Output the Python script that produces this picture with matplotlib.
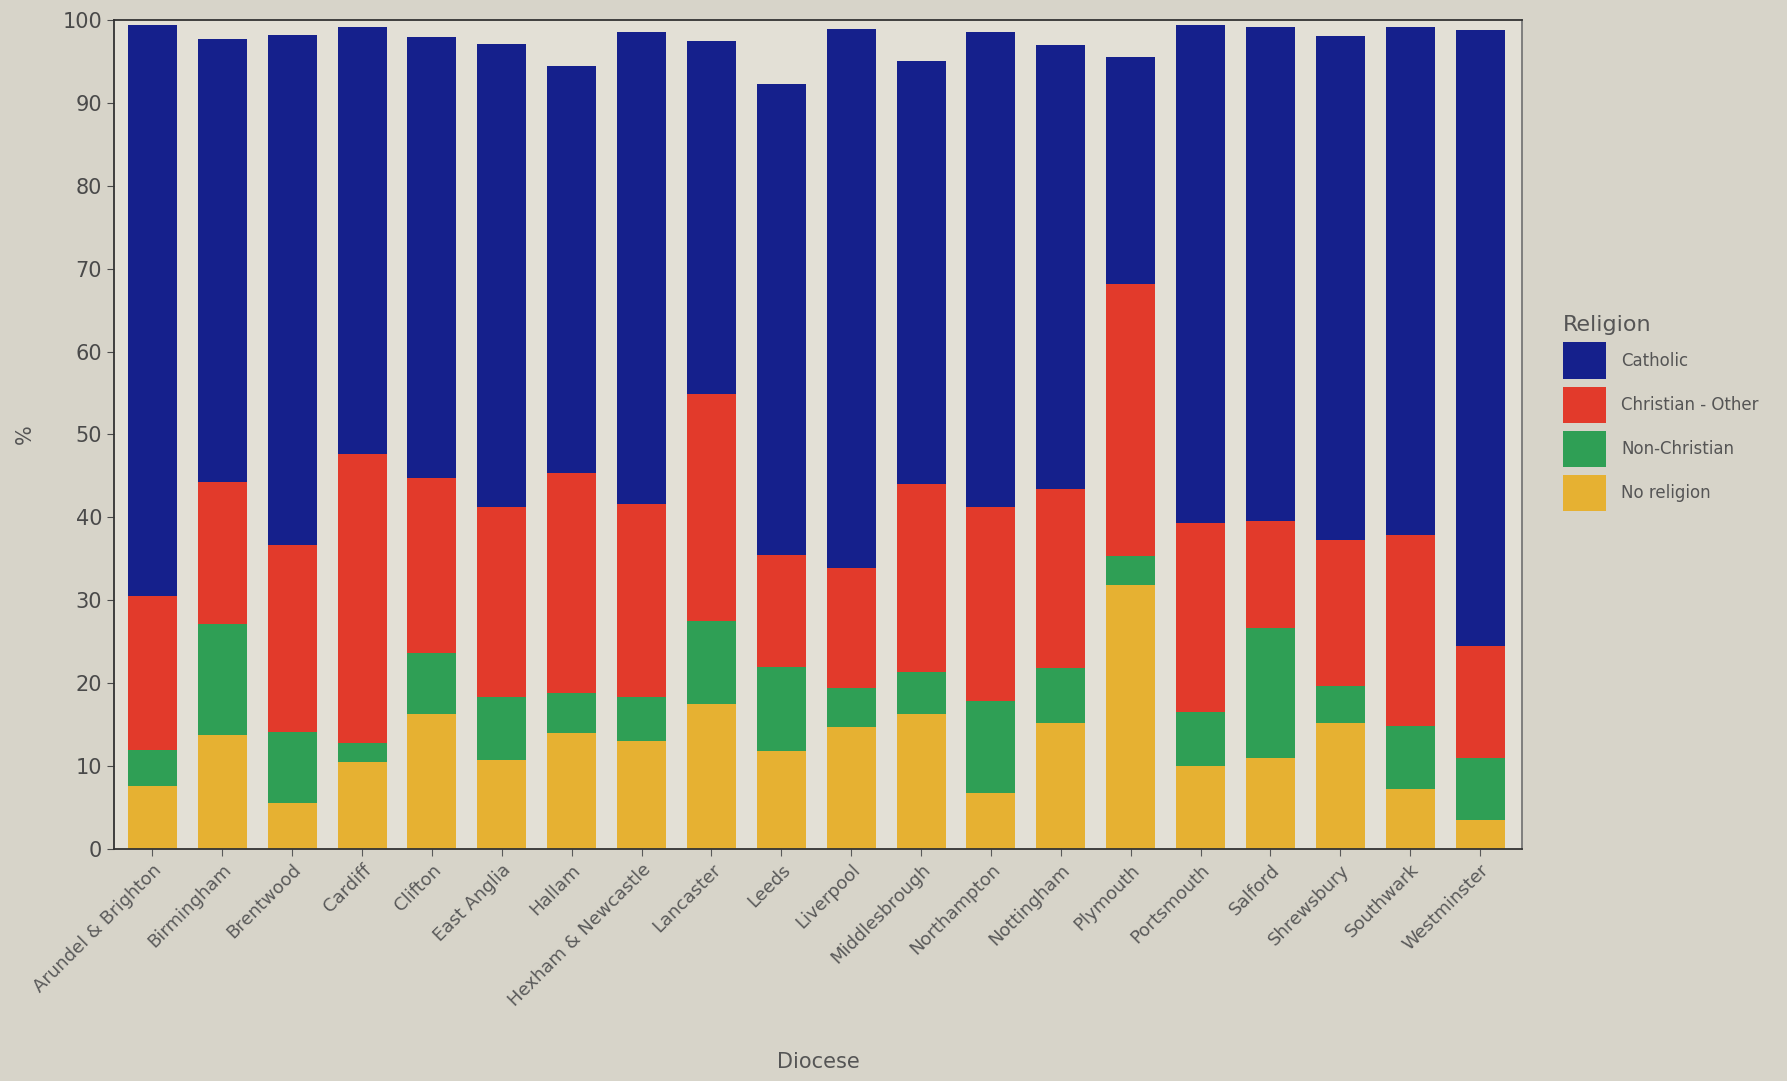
import matplotlib
matplotlib.use("Agg")
import matplotlib.pyplot as plt
import numpy as np
from matplotlib.patches import Patch

dioceses = ["Arundel & Brighton", "Birmingham", "Brentwood", "Cardiff", "Clifton",
            "East Anglia", "Hallam", "Hexham & Newcastle", "Lancaster", "Leeds",
            "Liverpool", "Middlesbrough", "Northampton", "Nottingham", "Plymouth",
            "Portsmouth", "Salford", "Shrewsbury", "Southwark", "Westminster"]

no_religion   = [7.6, 13.8, 5.5, 10.5, 16.3, 10.7, 14.0, 13.0, 17.5, 11.8,
                 14.7, 16.3, 6.8, 15.2, 31.8, 10.0, 11.0, 15.2, 7.2, 3.5]
non_christian = [4.3, 13.3, 8.6, 2.3, 7.4, 7.6, 4.8, 5.3, 10.0, 10.1,
                 4.7, 5.0, 11.1, 6.6, 3.6, 6.5, 15.6, 4.5, 7.6, 7.5]
christian_other = [18.6, 17.2, 22.6, 34.8, 21.1, 23.0, 26.5, 23.3, 27.4, 13.6,
                   14.5, 22.7, 23.3, 21.6, 32.8, 22.8, 13.0, 17.6, 23.1, 13.5]
catholic      = [68.9, 53.4, 61.5, 51.5, 53.2, 55.8, 49.2, 57.0, 42.6, 56.8,
                 65.0, 51.0, 57.4, 53.6, 27.3, 60.1, 59.6, 60.8, 61.3, 74.3]

series_names = ["Catholic", "Christian - Other", "Non-Christian", "No religion"]
colors = {"Catholic": "#15208c", "Christian - Other": "#e23a2b",
          "Non-Christian": "#2f9f55", "No religion": "#e6b132"}

fig = plt.figure(figsize=(17.87, 10.81), dpi=100, facecolor="#d7d4c9")
ax = fig.add_axes([114/1787, 1 - 849/1081, (1522-114)/1787, (849-20)/1081])
ax.set_facecolor("#e3e0d6")

x = np.arange(len(dioceses))
w = 0.7
bottom = np.zeros(len(dioceses))
for name, vals in [("No religion", no_religion), ("Non-Christian", non_christian),
                   ("Christian - Other", christian_other), ("Catholic", catholic)]:
    v = np.array(vals)
    ax.bar(x, v, width=w, bottom=bottom, color=colors[name], edgecolor="none")
    bottom += v

ax.set_xlim(-0.55, len(dioceses) - 0.4)
ax.set_ylim(0, 100)
ax.set_yticks(np.arange(0, 101, 10))
ax.set_xticks(x)
ax.set_xticklabels(dioceses, rotation=45, ha="right", rotation_mode="anchor",
                   fontsize=13, color="#5a5a5a")
ax.tick_params(axis="y", labelsize=15, colors="#4a4a4a", length=5)
ax.tick_params(axis="x", length=5, colors="#5a5a5a")
for lab in ax.get_yticklabels():
    lab.set_color("#4a4a4a")
for s in ax.spines.values():
    s.set_color("#333333")
    s.set_linewidth(1.3)
ax.spines["right"].set_color("#777777")

ax.set_ylabel("%", fontsize=15, color="#555555", labelpad=20)
ax.set_xlabel("Diocese", fontsize=15, color="#555555")
ax.xaxis.set_label_coords(0.5, -0.245)

handles = [Patch(facecolor=colors[n], edgecolor="none") for n in series_names]
leg = fig.legend(handles, series_names, title="Religion", loc="upper left",
                 bbox_to_anchor=(1548/1787, 1 - 300/1081), frameon=False,
                 fontsize=12, title_fontsize=16, handlelength=2.6, handleheight=3.0,
                 labelspacing=0.45, handletextpad=0.9)
leg._legend_box.align = "left"
for t in leg.get_texts():
    t.set_color("#555555")
leg.get_title().set_color("#555555")

fig.savefig("out.png", dpi=100, facecolor=fig.get_facecolor())
